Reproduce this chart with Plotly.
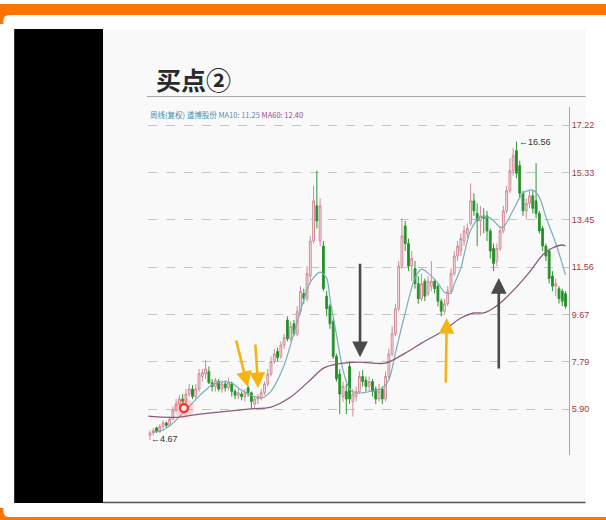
import plotly.graph_objects as go

# ---------------- data (weekly candles) ----------------
opens = [4.85, 4.95, 5.15, 5.00, 5.20, 5.35, 5.25, 5.50, 5.85, 6.10,
         6.30, 6.20, 6.50, 6.70, 6.40, 6.70, 7.20, 7.30, 7.40, 6.95,
         6.80, 7.00, 6.70, 6.90, 6.75, 6.90, 6.60, 6.45, 6.50, 6.40,
         6.75, 6.55, 6.10, 6.30, 6.35, 6.55, 6.90, 7.30, 7.80, 8.20,
         8.00, 8.45, 9.45, 8.70, 9.30, 8.90, 9.80, 10.50, 10.30, 11.20,
         12.60, 14.00, 12.60, 12.40, 10.40, 10.00, 9.40, 8.00, 7.30, 6.40,
         6.60, 7.60, 6.20, 6.40, 6.60, 7.20, 7.05, 6.80, 7.00, 6.70,
         6.30, 6.70, 6.30, 7.20, 8.10, 8.90, 9.90, 11.60, 13.20, 12.50,
         11.60, 11.50, 10.90, 10.30, 11.00, 10.50, 10.80, 11.00, 10.80, 10.20,
         9.80, 10.10, 10.60, 11.30, 12.00, 12.20, 12.60, 12.90, 13.30, 14.20,
         13.70, 13.40, 13.60, 13.60, 13.00, 12.30, 11.80, 12.30, 13.00, 13.80,
         14.60, 15.40, 16.20, 15.60, 14.50, 13.80, 14.10, 14.40, 14.20, 13.70,
         13.10, 12.40, 12.20, 11.20, 10.80, 10.70, 10.60, 10.50]
highs = [5.05, 5.15, 5.20, 5.30, 5.45, 5.40, 5.60, 6.00, 6.30, 6.45,
         6.50, 6.70, 6.90, 6.85, 6.90, 7.50, 7.50, 7.85, 7.60, 7.10,
         7.15, 7.10, 7.05, 7.05, 7.15, 7.00, 6.70, 6.70, 6.60, 6.70,
         6.85, 6.60, 6.40, 6.50, 6.70, 7.00, 7.50, 8.00, 8.30, 8.35,
         8.60, 8.90, 9.60, 9.40, 9.45, 10.00, 10.80, 10.70, 11.60, 12.80,
         14.80, 15.40, 14.30, 12.60, 10.60, 10.10, 9.50, 8.10, 7.50, 7.00,
         6.90, 7.80, 6.70, 6.80, 7.40, 7.45, 7.20, 7.20, 7.10, 6.80,
         6.90, 6.80, 7.40, 8.30, 9.20, 10.10, 11.80, 13.50, 13.40, 12.70,
         12.20, 11.80, 11.20, 11.30, 11.10, 11.20, 11.80, 11.10, 10.90, 10.30,
         10.30, 10.80, 11.50, 12.20, 12.60, 12.90, 13.20, 13.30, 14.90, 14.50,
         14.10, 14.00, 13.90, 13.80, 13.10, 12.50, 12.50, 13.20, 14.00, 14.80,
         15.90, 16.30, 16.56, 15.80, 14.60, 14.30, 14.60, 14.60, 15.70, 13.80,
         13.20, 12.50, 12.30, 11.40, 11.10, 10.80, 10.70, 10.60]
lows = [4.67, 4.85, 4.95, 4.95, 5.10, 5.15, 5.20, 5.45, 5.80, 6.00,
        6.05, 6.10, 6.40, 6.30, 6.30, 6.60, 7.00, 7.10, 6.90, 6.60,
        6.60, 6.60, 6.55, 6.60, 6.65, 6.40, 6.30, 6.30, 6.25, 6.20,
        6.40, 5.90, 5.90, 6.10, 6.25, 6.45, 6.80, 7.20, 7.70, 7.80,
        7.90, 8.30, 8.60, 8.60, 8.80, 8.80, 9.70, 10.10, 10.20, 11.00,
        12.50, 13.10, 12.40, 10.60, 9.60, 9.10, 7.90, 7.00, 5.70, 6.20,
        5.70, 6.10, 5.60, 6.20, 6.50, 6.80, 6.60, 6.60, 6.40, 6.10,
        6.20, 6.10, 6.20, 7.10, 8.00, 8.80, 9.80, 11.50, 12.20, 11.40,
        11.00, 10.70, 10.10, 10.20, 10.20, 10.40, 10.60, 10.50, 10.00, 9.60,
        9.70, 10.00, 10.50, 11.20, 11.80, 12.00, 12.40, 12.70, 13.20, 13.60,
        12.40, 12.80, 12.90, 12.60, 11.90, 11.40, 11.60, 12.20, 12.90, 13.70,
        14.50, 15.20, 15.10, 14.30, 13.60, 13.50, 13.90, 13.70, 13.50, 12.90,
        12.20, 11.80, 10.90, 10.60, 10.40, 10.10, 10.00, 9.90]
closes = [4.95, 5.05, 5.00, 5.20, 5.35, 5.25, 5.50, 5.85, 6.10, 6.30,
          6.20, 6.50, 6.70, 6.40, 6.70, 7.30, 7.35, 7.50, 6.95, 6.80,
          7.05, 6.70, 6.90, 6.75, 6.95, 6.60, 6.45, 6.55, 6.40, 6.55,
          6.55, 6.20, 6.30, 6.40, 6.55, 6.90, 7.30, 7.80, 8.10, 7.95,
          8.45, 8.75, 8.70, 9.20, 8.90, 9.80, 10.60, 10.30, 11.30, 12.60,
          14.20, 13.40, 14.00, 10.70, 9.90, 9.30, 8.00, 7.10, 6.50, 6.80,
          6.30, 6.30, 6.50, 6.60, 7.20, 7.00, 6.80, 7.00, 6.60, 6.30,
          6.60, 6.30, 7.20, 8.10, 8.90, 9.90, 11.60, 12.80, 12.50, 11.60,
          11.90, 10.90, 10.30, 10.90, 10.40, 11.00, 11.00, 10.70, 10.20, 9.80,
          10.10, 10.60, 11.30, 12.00, 12.40, 12.70, 13.00, 13.10, 14.20, 13.80,
          13.40, 13.60, 13.50, 13.00, 12.20, 11.70, 12.30, 13.00, 13.80, 14.60,
          15.40, 16.00, 15.30, 14.50, 13.80, 14.10, 14.40, 13.90, 13.70, 13.00,
          12.40, 12.00, 11.10, 10.80, 10.90, 10.30, 10.20, 10.00]
week_idx = list(range(len(opens)))

# moving averages
ma10_x = [1, 4, 7, 10, 13, 16, 19, 22, 25, 27,
          30, 34, 37, 41, 44, 47, 49, 52, 54, 55,
          57, 59, 61, 63, 68, 71, 73, 75, 78, 81,
          83, 85, 88, 90, 92, 93, 95, 98, 101, 104,
          107, 108, 111, 114, 117, 119, 121, 124, 127]
ma10_y = [4.98, 5.06, 5.34, 5.74, 6.14, 6.54, 6.86, 6.98, 6.94, 6.74,
          6.50, 6.34, 6.62, 7.65, 8.93, 10.24, 10.96, 11.36, 11.12, 10.32,
          8.85, 7.45, 6.70, 6.54, 6.62, 6.74, 7.06, 8.13, 9.73, 11.12,
          11.48, 11.32, 10.92, 10.56, 10.52, 10.88, 11.52, 13.03, 13.55, 13.51,
          13.15, 13.15, 13.83, 14.51, 14.63, 14.35, 13.55, 12.52, 11.25]
ma60_x = [-0.5, 4, 9, 13, 18, 24, 30, 37, 43, 49,
          53, 57, 64, 72, 78, 83, 89, 92, 95, 99,
          102, 105, 108, 112, 116, 120, 123, 126, 127]
ma60_y = [5.62, 5.58, 5.58, 5.66, 5.74, 5.82, 5.90, 5.98, 6.38, 7.06,
          7.53, 7.69, 7.77, 7.73, 8.13, 8.53, 8.97, 9.25, 9.53, 9.73,
          9.73, 9.93, 10.24, 10.76, 11.36, 12.04, 12.32, 12.44, 12.40]

tick_vals = [5.90, 7.79, 9.67, 11.56, 13.45, 15.33, 17.22]
tick_text = ["5.90", "7.79", "9.67", "11.56", "13.45", "15.33", "17.22"]

signal_x = [10.4]
signal_y = [5.94]

# ---------------- layout geometry ----------------
FW, FH = 606, 520
L, R, T, B = 148, 27, 107, 65
PW, PH = FW - L - R, FH - T - B


def px(xp):
    return (xp - L) / PW


def py(yp):
    return (FH - B - yp) / PH


fig = go.Figure()

fig.add_trace(go.Candlestick(
    x=week_idx, open=opens, high=highs, low=lows, close=closes,
    increasing=dict(line=dict(color="#d08c95", width=1), fillcolor="#f7e4e6"),
    decreasing=dict(line=dict(color="#2f9632", width=1), fillcolor="#1f8a22"),
    whiskerwidth=0, showlegend=False, hoverinfo="skip"))

fig.add_trace(go.Scatter(x=ma10_x, y=ma10_y, mode="lines",
                         line=dict(color="#79aeb9", width=1.2, shape="spline", smoothing=0.8),
                         showlegend=False, hoverinfo="skip"))
fig.add_trace(go.Scatter(x=ma60_x, y=ma60_y, mode="lines",
                         line=dict(color="#8d5a7c", width=1.3, shape="spline", smoothing=0.8),
                         showlegend=False, hoverinfo="skip"))

# red signal ring with glow
fig.add_trace(go.Scatter(x=signal_x, y=signal_y, mode="markers",
                         marker=dict(size=20, color="rgba(255,90,90,0.22)", line=dict(width=0)),
                         showlegend=False, hoverinfo="skip"))
fig.add_trace(go.Scatter(x=signal_x, y=signal_y, mode="markers",
                         marker=dict(size=8, color="rgba(255,255,255,0.6)", symbol="circle",
                                     line=dict(color="#ff2a2a", width=2.2)),
                         showlegend=False, hoverinfo="skip"))

shapes = []
# white rounded card on orange frame
x0, x1, y0, y1, r = px(0), px(640), py(15), py(517), 6
rx, ry = r / PW, r / PH
shapes.append(dict(type="path", xref="paper", yref="paper", layer="below",
                   path=(f"M {x0 + rx},{y0} L {x1},{y0} L {x1},{y1} L {x0 + rx},{y1} "
                         f"Q {x0},{y1} {x0},{y1 + ry} L {x0},{y0 - ry} Q {x0},{y0} {x0 + rx},{y0} Z"),
                   fillcolor="white", line=dict(width=0)))
shapes.append(dict(type="rect", xref="paper", yref="paper", layer="below",
                   x0=px(-5), x1=px(640), y0=py(24), y1=py(508), fillcolor="white", line=dict(width=0)))
shapes.append(dict(type="rect", xref="paper", yref="paper", layer="below",
                   x0=px(-5), x1=px(640), y0=py(-5), y1=py(4), fillcolor="white", line=dict(width=0)))
# black side panel & slide
shapes.append(dict(type="rect", xref="paper", yref="paper", layer="below",
                   x0=px(11), x1=px(102), y0=py(29), y1=py(503), fillcolor="#000000", line=dict(width=0)))
shapes.append(dict(type="rect", xref="paper", yref="paper", layer="below",
                   x0=px(102), x1=px(596), y0=py(29), y1=py(502), fillcolor="#f9f9f9", line=dict(width=0)))
shapes.append(dict(type="line", xref="paper", yref="paper", layer="below",
                   x0=px(102), x1=px(596), y0=py(502.5), y1=py(502.5), line=dict(color="#5a5a5a", width=1.5)))
# title rule
shapes.append(dict(type="line", xref="paper", yref="paper", layer="below",
                   x0=px(147), x1=px(596), y0=py(96.5), y1=py(96.5), line=dict(color="#a8a8a8", width=1)))

annotations = []
annotations.append(dict(xref="paper", yref="paper", x=px(154), y=py(79), xanchor="left", yanchor="middle",
                        text="<b>买点②</b>", showarrow=False,
                        font=dict(family="Noto Sans CJK SC", size=25, color="#2a2a2a")))
annotations.append(dict(xref="paper", yref="paper", x=px(148), y=py(115), xanchor="left", yanchor="middle",
                        text=("<span style='color:#3f8fae'>周线(复权) 道博股份</span> "
                              "<span style='color:#5b86b5'>MA10: 11.25</span> "
                              "<span style='color:#a0498c'>MA60: 12.40</span>"),
                        showarrow=False,
                        font=dict(family="Liberation Sans Narrow, Noto Sans CJK SC", size=7.5)))
annotations.append(dict(x=112.2, y=16.56, xanchor="left", yanchor="middle", text="←16.56",
                        showarrow=False, font=dict(family="Liberation Sans Narrow, Liberation Sans", size=9, color="#333")))
annotations.append(dict(x=-0.4, y=4.72, xanchor="left", yanchor="middle", text="←4.67",
                        showarrow=False, font=dict(family="Liberation Sans Narrow, Liberation Sans", size=9, color="#333")))

# call-out arrows: (tip x, tip y, tail dx px, tail dy px, colour)
arrows = [(29.9, 6.78, -12, -48, "#f6b412"),
          (33.1, 6.74, -3, -45, "#f6b412"),
          (90.7, 9.53, -1, 66, "#f6b412"),
          (64.2, 7.97, 0, -95, "#4a4a4a"),
          (106.6, 11.12, 0, 92, "#4a4a4a")]
for ax_, ay_, dx, dy, col in arrows:
    annotations.append(dict(x=ax_, y=ay_, ax=dx, ay=dy, text="", showarrow=True,
                            arrowhead=2, arrowsize=1.2, arrowwidth=2.6, arrowcolor=col, standoff=0))

fig.update_layout(
    width=FW, height=FH, autosize=False,
    margin=dict(l=L, r=R, t=T, b=B, pad=0),
    paper_bgcolor="#ff7300", plot_bgcolor="rgba(0,0,0,0)",
    boxgap=0.2,
    shapes=shapes, annotations=annotations, showlegend=False,
    xaxis=dict(range=[-0.6, 128.06], showgrid=False, zeroline=False, showticklabels=False,
               showline=False, ticks="", rangeslider=dict(visible=False), fixedrange=True),
    yaxis=dict(range=[4.07, 17.94], side="right", tickvals=tick_vals, ticktext=tick_text,
               tickfont=dict(family="Liberation Sans Narrow, Liberation Sans", size=9, color="#a23a48"),
               showgrid=True, gridcolor="#c4c4c4", griddash="dash", gridwidth=1,
               showline=True, linecolor="#a6a6a6", linewidth=1, ticks="", zeroline=False,
               fixedrange=True),
)

fig.write_html("out.html",
               config={"displayModeBar": False},
               post_script="document.body.style.margin='0';document.body.style.overflow='hidden';")
